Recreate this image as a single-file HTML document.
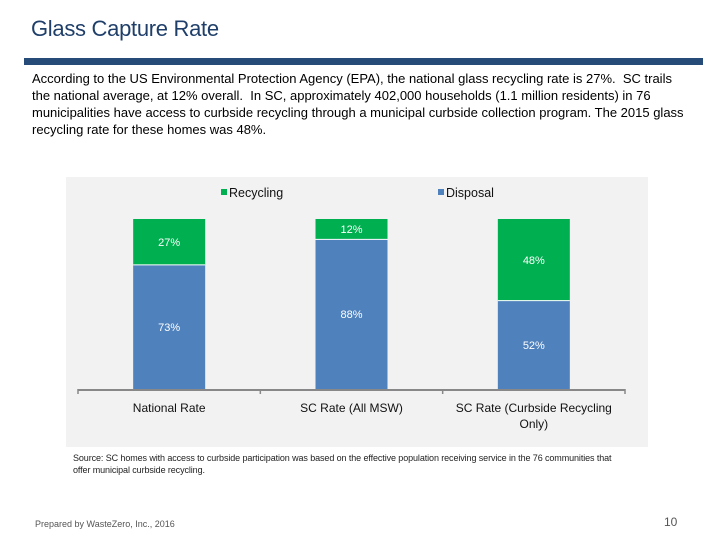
<!DOCTYPE html>
<html><head><meta charset="utf-8"><style>
body{margin:0;width:720px;height:540px;background:#fff;font-family:"Liberation Sans",sans-serif;position:relative;overflow:hidden}
.t{position:absolute;white-space:nowrap}
.para div{position:absolute;left:32px;font-size:13px;color:#000;white-space:nowrap}
</style></head><body>
<div class="t" style="left:31px;top:16px;font-size:22px;color:#1f3f6a;letter-spacing:-0.3px">Glass Capture Rate</div>
<div style="position:absolute;left:24px;top:58px;width:679px;height:7px;background:#264b78"></div>
<div class="para">
<div style="top:71px">According to the US Environmental Protection Agency (EPA), the national glass recycling rate is 27%.&nbsp; SC trails</div>
<div style="top:88px">the national average, at 12% overall.&nbsp; In SC, approximately 402,000 households (1.1 million residents) in 76</div>
<div style="top:105px">municipalities have access to curbside recycling through a municipal curbside collection program. The 2015 glass</div>
<div style="top:122px">recycling rate for these homes was 48%.</div>
</div>
<svg id="chart" style="position:absolute;left:0;top:0" width="720" height="540" font-family="Liberation Sans, sans-serif"></svg>
<div class="t" style="left:73px;top:452px;font-size:9px;letter-spacing:-0.1px;color:#222;line-height:12px">Source: SC homes with access to curbside participation was based on the effective population receiving service in the 76 communities that<br>offer municipal curbside recycling.</div>
<div class="t" style="left:35px;top:519px;font-size:9px;color:#555">Prepared by WasteZero, Inc., 2016</div>
<div class="t" style="left:664px;top:515px;font-size:12px;color:#555">10</div>
<script>
const categories=["National Rate","SC Rate (All MSW)","SC Rate (Curbside Recycling|Only)"];
const recycling=[27,12,48];
const disposal=[73,88,52];
const NS="http://www.w3.org/2000/svg";
const svg=document.getElementById('chart');
function mk(t,a){const e=document.createElementNS(NS,t);for(const k in a)e.setAttribute(k,a[k]);svg.appendChild(e);return e;}
const bg=mk('rect',{x:66,y:177,width:582,height:270,fill:'#f2f2f2'});


const x0=78,x1=625,yBase=389,yTop=219;
const slot=(x1-x0)/categories.length;
function y(v){return yBase-(v/100)*(yBase-yTop);}
function xc(i){return x0+slot*(i+0.5);}
const bw=72;
categories.forEach((c,i)=>{
  const d=disposal[i],r=recycling[i];
  const b1=mk('rect',{x:xc(i)-bw/2,y:y(d),width:bw,height:yBase-y(d),fill:'#4f81bd'});
  
  
  const b2=mk('rect',{x:xc(i)-bw/2,y:y(d+r),width:bw,height:y(d)-y(d+r),fill:'#00b050'});
  
  
  mk('line',{x1:xc(i)-bw/2,x2:xc(i)+bw/2,y1:y(d),y2:y(d),stroke:'#fff','stroke-width':1});
  const t1=mk('text',{x:xc(i),y:(y(d)+yBase)/2+4,'text-anchor':'middle','font-size':11,fill:'#fff'});t1.textContent=d+'%';
  
  
  const t2=mk('text',{x:xc(i),y:(y(d)+y(d+r))/2+4,'text-anchor':'middle','font-size':11,fill:'#fff'});t2.textContent=r+'%';
  
  
  c.split('|').forEach((ln,k)=>{
    const t=mk('text',{x:xc(i),y:412+k*16,'text-anchor':'middle','font-size':12,fill:'#111'});t.textContent=ln;
    
    
  });
});
mk('line',{x1:x0,x2:x1,y1:yBase+1,y2:yBase+1,stroke:'#888','stroke-width':2});
for(let i=0;i<=categories.length;i++)mk('line',{x1:x0+slot*i,x2:x0+slot*i,y1:yBase,y2:yBase+5,stroke:'#888','stroke-width':1.5});
[['Recycling','#00b050',221],['Disposal','#4f81bd',438]].forEach(([n,col,lx])=>{
  const s=mk('rect',{x:lx,y:189,width:6,height:6,fill:col});
  
  
  const t=mk('text',{x:lx+8,y:197,'font-size':12.5,fill:'#111'});t.textContent=n;
  
  
});
</script>
</body></html>
